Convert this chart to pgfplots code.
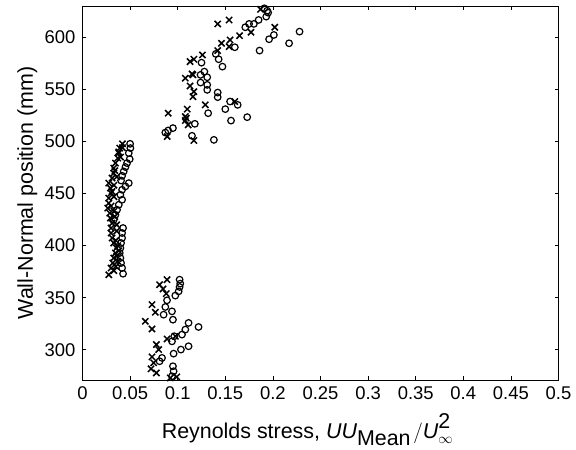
\documentclass[border=0pt]{standalone}
\usepackage{fontspec}
\setmainfont{Liberation Sans}
\usepackage{pgfplots}
\pgfplotsset{compat=1.18}
\begin{document}
\begin{tikzpicture}
\begin{axis}[
  scale only axis, width=476bp, height=374bp,
  xmin=0, xmax=0.5, ymin=271, ymax=630,
  xtick={0,0.05,0.1,0.15,0.2,0.25,0.3,0.35,0.4,0.45,0.5},
  xticklabels={0,0.05,0.1,0.15,0.2,0.25,0.3,0.35,0.4,0.45,0.5},
  ytick={300,350,400,450,500,550,600},
  tick align=inside, major tick length=4bp,
  axis line style={line width=0.8bp},
  every tick/.style={line width=0.8bp, black},
  tick label style={font=\fontsize{18.5}{21}\selectfont},
  /pgf/number format/assume math mode=true,
  xticklabel style={yshift=-3bp},
  yticklabel style={xshift=-3.5bp},
  label style={font=\fontsize{21.5}{25}\selectfont},
  xlabel={Reynolds stress, $\textit{UU}_{\textrm{Mean}}\mkern2mu/\textit{U}^{\textrm{2}}_{\infty}$},
  ylabel={Wall-Normal position (mm)},
  xlabel style={at={([xshift=-13bp,yshift=-58bp]axis description cs:0.5,0)}, anchor=base},
  ylabel style={at={([xshift=-49.5bp]axis description cs:0,0.5)}, anchor=base},
  clip=false,
]
\addplot[only marks, mark=o, mark size=3.3bp, line width=1.2bp, black] coordinates {
(0.191,627.8) (0.194,625.5) (0.195,623.6) (0.193,619.8) (0.185,616.6)
(0.180,612.8) (0.175,612.8) (0.171,609.6) (0.201,602.2) (0.196,598.1)
(0.228,605.4) (0.217,594.2) (0.186,587.2) (0.160,590.4) (0.140,584.0)
(0.143,578.9) (0.147,571.8) (0.125,575.6) (0.128,567.0) (0.124,563.9)
(0.131,561.6) (0.124,556.5) (0.131,554.3) (0.131,549.5) (0.142,546.9)
(0.142,542.5) (0.132,527.1) (0.118,516.9) (0.150,531.0) (0.155,538.3)
(0.163,535.1) (0.173,523.3) (0.156,520.0) (0.115,505.4) (0.138,501.5)
(0.095,512.8) (0.087,508.5) (0.090,510.5) (0.050,497.7)
(0.0503,493.6) (0.0486,488.8) (0.0496,483.0) (0.0468,479.2) (0.0451,475.4)
(0.0433,471.2) (0.0416,467.0) (0.0405,462.5) (0.0486,460.0) (0.0451,456.8)
(0.0416,453.6) (0.0398,448.8) (0.0416,444.0) (0.0381,439.2) (0.0363,434.4)
(0.0346,429.6) (0.0328,424.8) (0.0426,416.9) (0.0416,412.1) (0.0416,407.3)
(0.0405,402.5) (0.0398,397.7) (0.0391,392.9) (0.0398,388.1) (0.0405,383.3)
(0.0416,378.5) (0.0426,373.0)
(0.102,367.3) (0.1027,363.5) (0.102,360.3) (0.101,356.1) (0.0975,352.0)
(0.0888,347.5) (0.087,341.1) (0.094,336.9) (0.0852,333.7) (0.095,328.9)
(0.1114,325.8) (0.1219,321.9) (0.108,319.4) (0.1045,314.6) (0.0964,313.0)
(0.094,308.1) (0.1114,303.4) (0.1034,300.2) (0.0957,296.3) (0.0835,292.2)
(0.081,289.0) (0.095,284.2) (0.0957,279.4) (0.094,274.6)
};
\addplot[only marks, mark=x, mark size=4.4bp, line width=1.5bp, black] coordinates {
(0.187,626.8) (0.177,604.8) (0.165,601.5) (0.202,609.6) (0.142,612.8)
(0.154,616.6) (0.146,594.2) (0.155,597.4) (0.154,591.0) (0.142,587.2)
(0.117,578.9) (0.126,583.0) (0.113,576.6) (0.115,564.8) (0.108,560.7)
(0.116,563.9) (0.113,553.3) (0.117,547.8) (0.116,543.0) (0.110,531.0)
(0.129,535.1) (0.108,523.9) (0.108,520.0) (0.111,515.9) (0.160,538.3)
(0.117,500.9) (0.090,527.1) (0.089,504.7) (0.109,522.3) (0.042,497.7)
(0.0391,493.6) (0.0381,488.8) (0.0370,484.0) (0.0346,479.2) (0.0328,474.4)
(0.0328,469.6) (0.0311,464.8) (0.0276,460.0) (0.0293,455.2) (0.0300,450.4)
(0.0276,445.6) (0.0276,440.8) (0.0265,436.0) (0.0286,431.2) (0.0293,426.4)
(0.0311,421.6) (0.0300,416.9) (0.0300,412.1) (0.0311,407.3) (0.0328,402.5)
(0.0356,397.7) (0.0346,392.9) (0.0328,388.1) (0.0318,383.3) (0.0300,378.5)
(0.0276,372.0)
(0.034,472) (0.036,466) (0.033,458) (0.031,452) (0.033,447) (0.030,438)
(0.033,433) (0.034,428) (0.036,420) (0.036,414) (0.035,405) (0.037,400)
(0.038,395) (0.036,390) (0.037,385) (0.035,380) (0.033,376) (0.038,490)
(0.040,485) (0.042,494)
(0.0888,367.3) (0.081,362.5) (0.0846,358.4) (0.088,353.9) (0.073,343.3)
(0.0765,336.0) (0.066,327.3) (0.073,320.0) (0.0888,310.4) (0.0975,313.0)
(0.0776,305.0) (0.080,300.2) (0.073,293.2) (0.0748,287.5) (0.072,281.7)
(0.0776,277.8) (0.0922,273.0) (0.099,274.0)
};
\end{axis}
\pgfresetboundingbox
\useasboundingbox ([shift={(-82.5bp,-70bp)}]current axis.south west) rectangle ([shift={(17.5bp,6bp)}]current axis.north east);
\end{tikzpicture}
\end{document}
